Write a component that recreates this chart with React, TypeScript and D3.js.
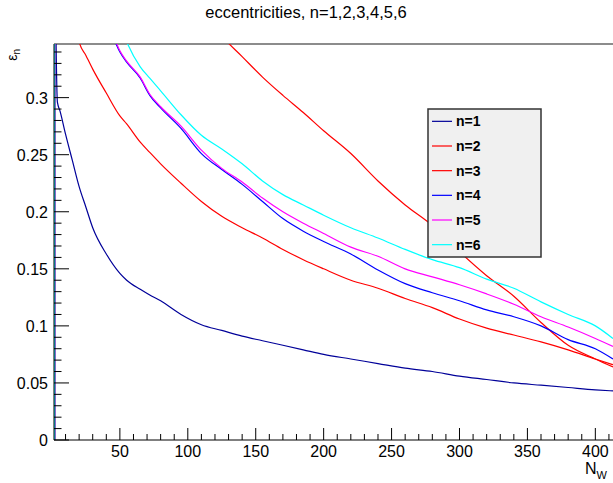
import React from 'react';
import * as d3 from 'd3';

// N_W sample points (shared by all curves)
const nW = [2, 4, 6, 10, 15, 20, 25, 30, 40, 50, 55, 65, 72, 80, 95, 110, 125, 140, 155, 170, 185, 200, 220, 240, 260, 280, 300, 320, 340, 360, 380, 400, 413];

// eccentricities (values above 0.347 are off the frame)
const eps1 = [0.45, 0.296, 0.288, 0.268, 0.245, 0.222, 0.204, 0.186, 0.163, 0.146, 0.14, 0.132, 0.127, 0.122, 0.11, 0.101, 0.096, 0.091, 0.087, 0.083, 0.079, 0.075, 0.071, 0.067, 0.063, 0.06, 0.056, 0.053, 0.05, 0.048, 0.046, 0.044, 0.043];
const eps2 = [0.9, 0.85, 0.8, 0.75, 0.7, 0.66, 0.63, 0.6, 0.56, 0.52, 0.5, 0.48, 0.46, 0.44, 0.41, 0.378, 0.354, 0.336, 0.318, 0.302, 0.287, 0.271, 0.251, 0.227, 0.206, 0.188, 0.165, 0.144, 0.126, 0.103, 0.083, 0.071, 0.064];
const eps3 = [0.7, 0.62, 0.56, 0.47, 0.39, 0.349, 0.337, 0.325, 0.304, 0.284, 0.277, 0.261, 0.252, 0.242, 0.225, 0.209, 0.196, 0.186, 0.177, 0.167, 0.158, 0.15, 0.14, 0.133, 0.124, 0.116, 0.106, 0.098, 0.092, 0.086, 0.079, 0.071, 0.066];
const eps4 = [0.8, 0.72, 0.66, 0.58, 0.51, 0.47, 0.44, 0.41, 0.37, 0.34, 0.331, 0.317, 0.302, 0.291, 0.273, 0.251, 0.237, 0.224, 0.209, 0.194, 0.183, 0.174, 0.163, 0.149, 0.137, 0.129, 0.122, 0.114, 0.108, 0.1, 0.088, 0.08, 0.071];
const eps5 = [0.85, 0.76, 0.7, 0.61, 0.54, 0.49, 0.45, 0.42, 0.375, 0.341, 0.332, 0.318, 0.303, 0.292, 0.275, 0.254, 0.238, 0.226, 0.212, 0.2, 0.19, 0.181, 0.169, 0.161, 0.15, 0.143, 0.136, 0.128, 0.119, 0.108, 0.099, 0.089, 0.082];
const eps6 = [0.9, 0.8, 0.74, 0.65, 0.58, 0.53, 0.49, 0.46, 0.41, 0.365, 0.349, 0.327, 0.317, 0.306, 0.285, 0.267, 0.255, 0.242, 0.227, 0.215, 0.206, 0.197, 0.186, 0.177, 0.167, 0.158, 0.151, 0.141, 0.133, 0.121, 0.11, 0.1, 0.089];

const labels = ['n=1', 'n=2', 'n=3', 'n=4', 'n=5', 'n=6'];
const colors = ['#000099', '#ff0000', '#ff0000', '#0000ff', '#ff00ff', '#00ffff'];
const series = [eps1, eps2, eps3, eps4, eps5, eps6];

const xTicks = [50, 100, 150, 200, 250, 300, 350, 400];
const yTicks = [0, 0.05, 0.1, 0.15, 0.2, 0.25, 0.3];

const W = 613;
const H = 483;
const left = 54, right = 613, top = 44, bottom = 440;
const font = 'Liberation Sans, Arial, sans-serif';

const App = () => {
    const x = d3.scaleLinear().domain([1.5, 413]).range([left, right]);
    const y = d3.scaleLinear().domain([0, 0.347]).range([bottom, top]);

    const line = d3
        .line<[number, number]>()
        .x((d) => x(d[0]))
        .y((d) => y(d[1]))
        .curve(d3.curveMonotoneX);

    const xMinor = d3.range(10, 413, 10).filter((v) => v % 50 !== 0);
    const yMinor = d3.range(0.01, 0.347, 0.01).filter((v) => Math.abs(v / 0.05 - Math.round(v / 0.05)) > 0.01);

    // legend geometry
    const lg = { x: 428, y: 109, w: 113, h: 148 };
    const rowH = lg.h / labels.length;

    return (
        <svg width={W} height={H} style={{ position: 'absolute', left: 0, top: 0, background: '#fff' }} fontFamily={font}>
            <defs>
                <clipPath id="frame">
                    <rect x={left} y={top} width={right - left} height={bottom - top} />
                </clipPath>
            </defs>
            <rect width={W} height={H} fill="#fff" />

            {/* title */}
            <text x={306} y={18} textAnchor="middle" fontSize={16.5}>
                eccentricities, n=1,2,3,4,5,6
            </text>

            {/* frame top */}
            <line x1={left} x2={right} y1={top} y2={top} stroke="#666" strokeWidth={1.5} />

            {/* curves: first bin rises from zero, then the falling trend */}
            <g clipPath="url(#frame)">
                {series.map((vals, i) => {
                    const pts = nW.map((n, j) => [n, vals[j]] as [number, number]);
                    return (
                        <g key={i}>
                            <line x1={x(nW[0])} x2={x(nW[0])} y1={y(0)} y2={y(vals[0])} stroke={colors[i]} strokeWidth={1.2} />
                            <path d={line(pts) || ''} fill="none" stroke={colors[i]} strokeWidth={1.2} />
                        </g>
                    );
                })}
            </g>

            {/* x axis */}
            <line x1={left} x2={right} y1={bottom} y2={bottom} stroke="#000" strokeWidth={1} />
            {xTicks.map((t) => (
                <g key={t}>
                    <line x1={x(t)} x2={x(t)} y1={bottom} y2={bottom - 12} stroke="#000" />
                    <text x={x(t)} y={457} textAnchor="middle" fontSize={16}>
                        {t}
                    </text>
                </g>
            ))}
            {xMinor.map((t) => (
                <line key={t} x1={x(t)} x2={x(t)} y1={bottom} y2={bottom - 6} stroke="#000" />
            ))}
            <text x={585} y={474} fontSize={16}>
                N
                <tspan fontSize={11} dy={5}>
                    W
                </tspan>
            </text>

            {/* y axis */}
            <line x1={left} x2={left} y1={top} y2={bottom} stroke="#000" strokeWidth={1} />
            {yTicks.map((t) => (
                <g key={t}>
                    <line x1={left} x2={left + 15} y1={y(t)} y2={y(t)} stroke="#000" />
                    <text x={48} y={y(t) + 6} textAnchor="end" fontSize={16}>
                        {t}
                    </text>
                </g>
            ))}
            {yMinor.map((t) => (
                <line key={t} x1={left} x2={left + 7.5} y1={y(t)} y2={y(t)} stroke="#000" />
            ))}
            <text transform="translate(17,49) rotate(-90)" textAnchor="end" fontSize={14}>
                ε
                <tspan fontSize={10} dy={3}>
                    n
                </tspan>
            </text>

            {/* legend */}
            <rect x={lg.x} y={lg.y} width={lg.w} height={lg.h} fill="#f0f0f0" stroke="#333" strokeWidth={1.5} />
            {labels.map((l, i) => {
                const cy = lg.y + rowH * (i + 0.5);
                return (
                    <g key={l}>
                        <line x1={432} x2={452} y1={cy} y2={cy} stroke={colors[i]} strokeWidth={1.2} />
                        <text x={456} y={cy + 5} fontSize={14} fontWeight="bold">
                            {l}
                        </text>
                    </g>
                );
            })}
        </svg>
    );
};

export default App;
